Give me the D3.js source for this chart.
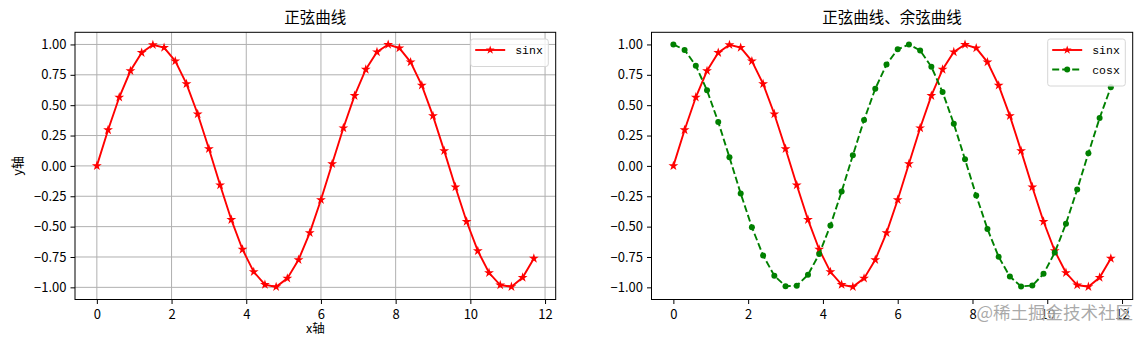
<!DOCTYPE html>
<html>
<head>
<meta charset="utf-8">
<script src="https://cdn.jsdelivr.net/npm/d3@7"></script>
<style>
  html, body { margin: 0; padding: 0; background: #fff; }
  svg text { font-family: "Noto Sans CJK SC", "DejaVu Sans", sans-serif; fill: #000; }
</style>
</head>
<body>
<div id="chart"></div>
<script>
// values (x step 0.3)
const xs = [0.0, 0.3, 0.6, 0.9, 1.2, 1.5, 1.8, 2.1, 2.4, 2.7,
            3.0, 3.3, 3.6, 3.9, 4.2, 4.5, 4.8, 5.1, 5.4, 5.7,
            6.0, 6.3, 6.6, 6.9, 7.2, 7.5, 7.8, 8.1, 8.4, 8.7,
            9.0, 9.3, 9.6, 9.9, 10.2, 10.5, 10.8, 11.1, 11.4, 11.7];
const sinVals = [0.000, 0.296, 0.565, 0.783, 0.932, 0.997, 0.974, 0.863, 0.675, 0.427,
                 0.141, -0.158, -0.443, -0.688, -0.872, -0.978, -0.996, -0.926, -0.773, -0.551,
                 -0.279, 0.017, 0.312, 0.578, 0.794, 0.938, 0.999, 0.970, 0.855, 0.663,
                 0.412, 0.124, -0.174, -0.458, -0.700, -0.880, -0.981, -0.995, -0.919, -0.762];
const cosVals = [1.000, 0.955, 0.825, 0.622, 0.362, 0.071, -0.227, -0.505, -0.737, -0.904,
                 -0.990, -0.987, -0.897, -0.726, -0.490, -0.211, 0.087, 0.378, 0.635, 0.835,
                 0.960, 1.000, 0.950, 0.816, 0.608, 0.347, 0.054, -0.244, -0.519, -0.749,
                 -0.911, -0.992, -0.985, -0.889, -0.714, -0.476, -0.194, 0.104, 0.394, 0.648];
const xTicks = [0, 2, 4, 6, 8, 10, 12];
const yTicks = [-1.0, -0.75, -0.5, -0.25, 0.0, 0.25, 0.5, 0.75, 1.0];

const W = 1148, H = 337;
const svg = d3.select('#chart').append('svg').attr('width', W).attr('height', H);

const star = d3.symbol().type(d3.symbolStar).size(30);
const starSmall = d3.symbol().type(d3.symbolStar).size(24);

function renderPanel(opt) {
  const { left, right, top, bottom } = opt;
  const g = svg.append('g');

  // 5% margins like matplotlib
  const xPad = (11.7 - 0) * 0.05;
  const x = d3.scaleLinear().domain([0 - xPad, 11.7 + xPad]).range([left, right]);
  const y = d3.scaleLinear().domain([-1.1, 1.1]).range([bottom, top]);

  if (opt.grid) {
    g.append('g').selectAll('line').data(xTicks).join('line')
      .attr('x1', d => x(d)).attr('x2', d => x(d))
      .attr('y1', top).attr('y2', bottom)
      .attr('stroke', '#b0b0b0').attr('stroke-width', 1);
    g.append('g').selectAll('line').data(yTicks).join('line')
      .attr('x1', left).attr('x2', right)
      .attr('y1', d => y(d)).attr('y2', d => y(d))
      .attr('stroke', '#b0b0b0').attr('stroke-width', 1);
  }

  // series
  for (const s of opt.series) {
    const pts = xs.map((v, i) => [v, s.values[i]]);
    g.append('path')
      .datum(pts)
      .attr('fill', 'none')
      .attr('stroke', s.color)
      .attr('stroke-width', 1.9)
      .attr('stroke-dasharray', s.dash || null)
      .attr('d', d3.line().x(d => x(d[0])).y(d => y(d[1])));
    const m = g.append('g').selectAll('.m').data(pts);
    if (s.marker === 'star') {
      m.join('path')
        .attr('transform', d => `translate(${x(d[0])},${y(d[1])})`)
        .attr('d', star)
        .attr('fill', s.color);
    } else {
      m.join('circle')
        .attr('cx', d => x(d[0])).attr('cy', d => y(d[1]))
        .attr('r', 3).attr('fill', s.color);
    }
  }

  // axes
  const ax = g.append('g')
    .attr('transform', `translate(0,${bottom})`)
    .call(d3.axisBottom(x).tickValues(xTicks).tickSize(4.5).tickPadding(4).tickFormat(d3.format('d')));
  const ay = g.append('g')
    .attr('transform', `translate(${left},0)`)
    .call(d3.axisLeft(y).tickValues(yTicks).tickSize(4.5).tickPadding(4).tickFormat(d3.format('.2f')));
  for (const a of [ax, ay]) {
    a.select('.domain').remove();
    a.selectAll('text').attr('font-size', 13)
      .style('font-family', '"Noto Sans CJK SC", sans-serif');
    a.selectAll('line').attr('stroke', '#000').attr('stroke-width', 1);
  }
  ax.selectAll('text').attr('dy', '0.85em');

  // frame
  g.append('rect')
    .attr('x', left).attr('y', top)
    .attr('width', right - left).attr('height', bottom - top)
    .attr('fill', 'none').attr('stroke', '#000').attr('stroke-width', 1);

  // title + labels
  g.append('text')
    .attr('x', (left + right) / 2).attr('y', top - 9)
    .attr('text-anchor', 'middle').attr('font-size', 15.5)
    .text(opt.title);
  if (opt.xLabel) {
    g.append('text')
      .attr('x', (left + right) / 2).attr('y', 333)
      .attr('text-anchor', 'middle').attr('font-size', 12.5)
      .text(opt.xLabel);
  }
  if (opt.yLabel) {
    g.append('text')
      .attr('transform', `translate(22,${(top + bottom) / 2}) rotate(-90)`)
      .attr('text-anchor', 'middle').attr('font-size', 13)
      .text(opt.yLabel);
  }

  // legend
  const lw = 77.6, rowH = 19.5;
  const lh = 8 + rowH * opt.series.length;
  const lx = right - 7.4 - lw, ly = top + 6.7;
  const leg = g.append('g');
  leg.append('rect')
    .attr('x', lx).attr('y', ly).attr('width', lw).attr('height', lh)
    .attr('rx', 2.5).attr('fill', '#fff').attr('fill-opacity', 0.8)
    .attr('stroke', '#d6d6d6').attr('stroke-width', 1);
  opt.series.forEach((s, i) => {
    const cy = ly + 11 + i * rowH;
    leg.append('line')
      .attr('x1', lx + 4.5).attr('x2', lx + 34.5)
      .attr('y1', cy).attr('y2', cy)
      .attr('stroke', s.color).attr('stroke-width', 1.9)
      .attr('stroke-dasharray', s.dash || null);
    if (s.marker === 'star') {
      leg.append('path').attr('transform', `translate(${lx + 19.5},${cy})`)
        .attr('d', starSmall).attr('fill', s.color);
    } else {
      leg.append('circle').attr('cx', lx + 19.5).attr('cy', cy).attr('r', 3).attr('fill', s.color);
    }
    leg.append('text')
      .attr('x', lx + 44.5).attr('y', cy).attr('dy', '0.35em')
      .style('font-family', '"Liberation Mono", "DejaVu Sans Mono", monospace')
      .attr('font-size', 11.5)
      .text(s.name);
  });
}

const sinSeries = { name: 'sinx', values: sinVals, color: '#ff0000', marker: 'star' };
const cosSeries = { name: 'cosx', values: cosVals, color: '#008000', marker: 'dot', dash: '7,3' };

renderPanel({
  left: 75, right: 555.7, top: 32.3, bottom: 299.5,
  title: '正弦曲线', xLabel: 'x轴', yLabel: 'y轴', grid: true,
  series: [sinSeries]
});

renderPanel({
  left: 651.5, right: 1132.7, top: 32.3, bottom: 299.5,
  title: '正弦曲线、余弦曲线', grid: false,
  series: [sinSeries, cosSeries]
});

// watermark
svg.append('text')
  .attr('x', 1133).attr('y', 319)
  .attr('text-anchor', 'end')
  .attr('font-size', 17.5)
  .style('fill', '#9a9a9a')
  .attr('fill-opacity', 0.85)
  .attr('stroke', '#fff').attr('stroke-width', 0.6)
  .attr('paint-order', 'stroke')
  .text('@稀土掘金技术社区');
</script>
</body>
</html>
